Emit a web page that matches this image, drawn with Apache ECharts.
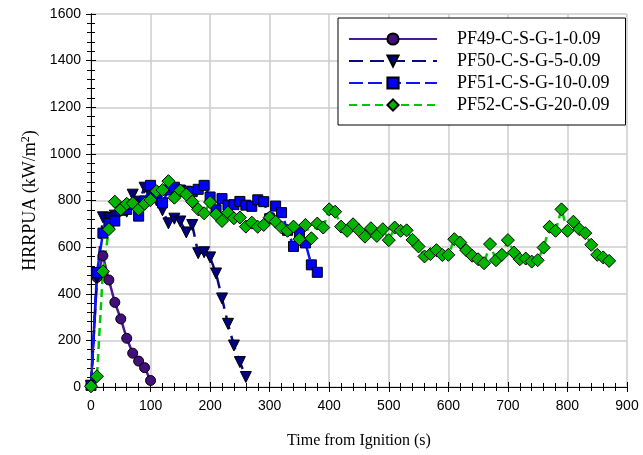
<!DOCTYPE html>
<html>
<head>
<meta charset="utf-8">
<script src="https://cdn.jsdelivr.net/npm/echarts@6/dist/echarts.min.js"></script>
<style>
  html, body { margin: 0; padding: 0; background: #ffffff; }
  #chart { width: 643px; height: 455px; }
</style>
</head>
<body>
<div id="chart"></div>
<script>
// Heat release rate per unit area vs. time for four specimens
const seriesNames = [
  'PF49-C-S-G-1-0.09',
  'PF50-C-S-G-5-0.09',
  'PF51-C-S-G-10-0.09',
  'PF52-C-S-G-20-0.09'
];

// sampling step (s) shared by all tests
const timeStep = 10;

const pf49 = [5, 470, 563, 459, 363, 292, 209, 145, 111, 83, 28];

const pf50 = [5, 470, 728, 725, 735, 755, 752, 825, 795, 855, 825, 800, 758, 702,
  722, 710, 663, 695, 574, 578, 556, 487, 380, 271, 178, 107, 43];

const pf51 = [7, 491, 660, 702, 712, 758, 762, 783, 733, 798, 865, 826, 790, 845,
  857, 845, 840, 838, 848, 865, 815, 760, 808, 780, 782, 796, 780, 775, 803, 795,
  722, 776, 748, 672, 603, 662, 618, 524, 492];

const pf52 = [3, 46, 496, 677, 795, 762, 786, 788, 762, 786, 802, 840, 845, 883,
  812, 843, 826, 795, 762, 745, 793, 741, 712, 748, 724, 727, 688, 705, 687, 695,
  727, 709, 684, 670, 688, 634, 695, 638, 701, 684, 762, 752, 688, 670, 698, 672,
  645, 681, 648, 677, 630, 684, 670, 672, 631, 603, 560, 570, 587, 566, 567, 634,
  620, 587, 563, 548, 531, 613, 544, 567, 630, 577, 548, 551, 538, 544, 598, 687,
  670, 762, 670, 709, 677, 660, 610, 567, 556, 541];

const xTicks = { min: 0, max: 900, interval: 100 };
const yTicks = { min: 0, max: 1600, interval: 200 };

function toPairs(values) {
  return values.map((v, i) => [i * timeStep, v]);
}

const serif = 'Liberation Serif';
const sans = 'Liberation Sans';

const styles = [
  { line: '#4a1a8a', fill: '#42107a', symbol: 'circle', size: 10, rotate: 0, dash: 'solid' },
  { line: '#0a0a80', fill: '#000080', symbol: 'triangle', size: 11, rotate: 180, dash: [14, 7] },
  { line: '#0a14ff', fill: '#0000ff', symbol: 'rect', size: 10, rotate: 0, dash: [14, 5] },
  { line: '#00c800', fill: '#00b400', symbol: 'diamond', size: 13, rotate: 0, dash: [8, 5] }
];

const datasets = [pf49, pf50, pf51, pf52];

const series = datasets.map((vals, k) => ({
  name: seriesNames[k],
  type: 'line',
  data: toPairs(vals),
  symbol: styles[k].symbol,
  symbolSize: styles[k].size,
  symbolRotate: styles[k].rotate,
  showAllSymbol: true,
  lineStyle: { color: styles[k].line, width: 2.5, type: styles[k].dash },
  itemStyle: { color: styles[k].fill, borderColor: '#000000', borderWidth: 1, opacity: 1 },
  emphasis: { disabled: true },
  animation: false
}));

const baseAxisLine = { show: true, lineStyle: { color: '#000000', width: 1 } };
const baseTick = { show: true, length: 5, lineStyle: { color: '#000000', width: 1 } };
const baseMinor = { show: true, splitNumber: 5, length: 4, lineStyle: { color: '#000000', width: 1 } };
const plainNumber = v => String(v);

const chart = echarts.init(document.getElementById('chart'), null, { renderer: 'canvas' });

chart.setOption({
  backgroundColor: '#ffffff',
  animation: false,
  grid: { left: 91, right: 16, top: 14, bottom: 68, containLabel: false },
  legend: {
    orient: 'vertical',
    left: 338,
    top: 18,
    data: seriesNames,
    itemWidth: 88,
    itemHeight: 14,
    itemGap: 4,
    padding: [12, 16, 11, 10],
    backgroundColor: '#ffffff',
    borderColor: '#000000',
    borderWidth: 1,
    borderRadius: 0,
    selectedMode: false,
    textStyle: {
      fontFamily: serif,
      fontSize: 18,
      lineHeight: 18,
      color: '#000000',
      padding: [0, 0, 0, 15]
    }
  },
  xAxis: [
    {
      type: 'value',
      min: xTicks.min,
      max: xTicks.max,
      interval: xTicks.interval,
      position: 'bottom',
      name: 'Time from Ignition (s)',
      nameLocation: 'middle',
      nameGap: 46,
      nameTextStyle: { fontFamily: serif, fontSize: 16, color: '#000000' },
      axisLine: baseAxisLine,
      axisTick: baseTick,
      minorTick: baseMinor,
      axisLabel: { fontFamily: sans, fontSize: 14, color: '#000000', margin: 12, formatter: plainNumber },
      splitLine: { show: true, lineStyle: { color: '#cccccc', width: 1.5 } }
    },
    {
      type: 'value',
      min: xTicks.min,
      max: xTicks.max,
      interval: xTicks.interval,
      position: 'top',
      axisLine: baseAxisLine,
      axisTick: baseTick,
      minorTick: baseMinor,
      axisLabel: { show: false },
      splitLine: { show: false }
    }
  ],
  yAxis: [
    {
      type: 'value',
      min: yTicks.min,
      max: yTicks.max,
      interval: yTicks.interval,
      position: 'left',
      name: 'HRRPUA (kW/m{sup|2})',
      nameLocation: 'middle',
      nameGap: 47,
      nameTextStyle: {
        fontFamily: serif,
        fontSize: 18,
        color: '#000000',
        rich: {
          sup: { fontFamily: serif, fontSize: 12, verticalAlign: 'top', padding: [0, 0, 8, 0], color: '#000000' }
        }
      },
      axisLine: baseAxisLine,
      axisTick: baseTick,
      minorTick: baseMinor,
      axisLabel: { fontFamily: sans, fontSize: 14, color: '#000000', margin: 10, formatter: plainNumber },
      splitLine: { show: true, lineStyle: { color: '#cccccc', width: 1.5 } }
    },
    {
      type: 'value',
      min: yTicks.min,
      max: yTicks.max,
      interval: yTicks.interval,
      position: 'right',
      axisLine: baseAxisLine,
      axisTick: baseTick,
      minorTick: baseMinor,
      axisLabel: { show: false },
      splitLine: { show: false }
    }
  ],
  series: series
});
</script>
</body>
</html>
